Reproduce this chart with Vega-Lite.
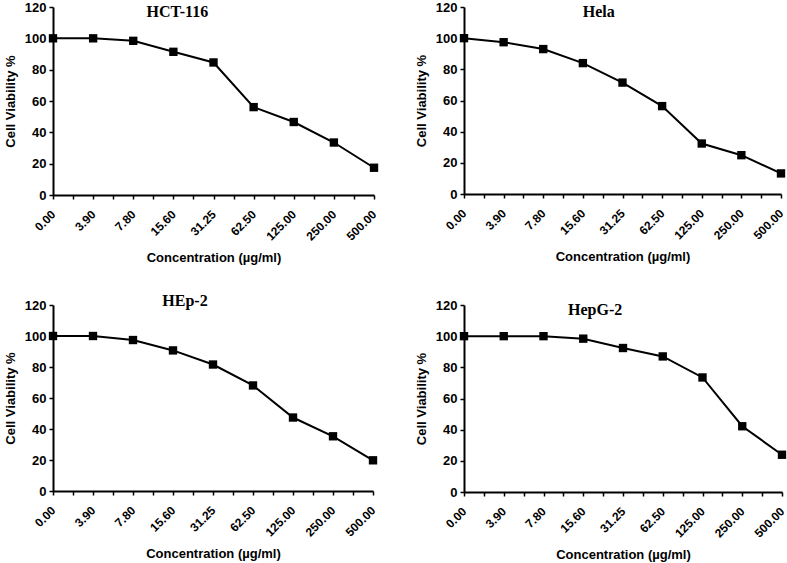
{
  "$schema": "https://vega.github.io/schema/vega-lite/v6.json",
  "background": "white",
  "padding": {"left": 4, "top": 1, "right": 0, "bottom": 0},
  "bounds": "flush",
  "columns": 2,
  "spacing": {"column": 90, "row": 110},
  "datasets": {
    "viability": [
      {"cell": "HCT-116", "idx": 0, "conc": "0.00", "viability": 100},
      {"cell": "HCT-116", "idx": 1, "conc": "3.90", "viability": 100},
      {"cell": "HCT-116", "idx": 2, "conc": "7.80", "viability": 98.4},
      {"cell": "HCT-116", "idx": 3, "conc": "15.60", "viability": 91.4},
      {"cell": "HCT-116", "idx": 4, "conc": "31.25", "viability": 84.6},
      {"cell": "HCT-116", "idx": 5, "conc": "62.50", "viability": 56.1},
      {"cell": "HCT-116", "idx": 6, "conc": "125.00", "viability": 46.6},
      {"cell": "HCT-116", "idx": 7, "conc": "250.00", "viability": 33.5},
      {"cell": "HCT-116", "idx": 8, "conc": "500.00", "viability": 17.4},
      {"cell": "Hela", "idx": 0, "conc": "0.00", "viability": 100},
      {"cell": "Hela", "idx": 1, "conc": "3.90", "viability": 97.4},
      {"cell": "Hela", "idx": 2, "conc": "7.80", "viability": 93},
      {"cell": "Hela", "idx": 3, "conc": "15.60", "viability": 84},
      {"cell": "Hela", "idx": 4, "conc": "31.25", "viability": 71.5},
      {"cell": "Hela", "idx": 5, "conc": "62.50", "viability": 56.4},
      {"cell": "Hela", "idx": 6, "conc": "125.00", "viability": 32.4},
      {"cell": "Hela", "idx": 7, "conc": "250.00", "viability": 24.9},
      {"cell": "Hela", "idx": 8, "conc": "500.00", "viability": 13.2},
      {"cell": "HEp-2", "idx": 0, "conc": "0.00", "viability": 100},
      {"cell": "HEp-2", "idx": 1, "conc": "3.90", "viability": 100},
      {"cell": "HEp-2", "idx": 2, "conc": "7.80", "viability": 97.4},
      {"cell": "HEp-2", "idx": 3, "conc": "15.60", "viability": 90.7},
      {"cell": "HEp-2", "idx": 4, "conc": "31.25", "viability": 81.6},
      {"cell": "HEp-2", "idx": 5, "conc": "62.50", "viability": 68.1},
      {"cell": "HEp-2", "idx": 6, "conc": "125.00", "viability": 47.4},
      {"cell": "HEp-2", "idx": 7, "conc": "250.00", "viability": 35.3},
      {"cell": "HEp-2", "idx": 8, "conc": "500.00", "viability": 19.8},
      {"cell": "HepG-2", "idx": 0, "conc": "0.00", "viability": 100},
      {"cell": "HepG-2", "idx": 1, "conc": "3.90", "viability": 100},
      {"cell": "HepG-2", "idx": 2, "conc": "7.80", "viability": 100},
      {"cell": "HepG-2", "idx": 3, "conc": "15.60", "viability": 98.4},
      {"cell": "HepG-2", "idx": 4, "conc": "31.25", "viability": 92.4},
      {"cell": "HepG-2", "idx": 5, "conc": "62.50", "viability": 87},
      {"cell": "HepG-2", "idx": 6, "conc": "125.00", "viability": 73.5},
      {"cell": "HepG-2", "idx": 7, "conc": "250.00", "viability": 42.2},
      {"cell": "HepG-2", "idx": 8, "conc": "500.00", "viability": 23.9}
    ]
  },
  "config": {
    "view": {"stroke": null},
    "axis": {
      "grid": false,
      "domainColor": "black",
      "domainWidth": 2,
      "tickColor": "black",
      "tickWidth": 1.5,
      "tickSize": 4,
      "labelPadding": 3,
      "labelFont": "Liberation Sans",
      "labelFontWeight": "bold",
      "labelFontSize": 13,
      "labelColor": "black",
      "titleFont": "Liberation Sans",
      "titleFontWeight": "bold",
      "titleFontSize": 13,
      "titleColor": "black",
      "labelOverlap": false,
      "labelFlush": false
    },
    "axisX": {"labelFontSize": 12, "labelAngle": -45, "labelAlign": "right", "labelBaseline": "middle", "labelPadding": 13, "titlePadding": 9}
  },
  "concat": [
    {
      "width": 321, "height": 188,
      "data": {"name": "viability"},
      "transform": [{"filter": "datum.cell === 'HCT-116'"}],
      "encoding": {
        "x": {"field": "idx", "type": "quantitative", "scale": {"domain": [0, 8], "nice": false, "zero": false},
          "axis": {"title": "Concentration (µg/ml)", "values": [0,0.5,1,1.5,2,2.5,3,3.5,4,4.5,5,5.5,6,6.5,7,7.5,8], "labelExpr": "datum.value % 1 == 0 ? ['0.00','3.90','7.80','15.60','31.25','62.50','125.00','250.00','500.00'][datum.value] : ''"}},
        "y": {"field": "viability", "type": "quantitative", "scale": {"domain": [0, 120], "nice": false},
          "axis": {"title": "Cell Viability %", "values": [0,20,40,60,80,100,120], "titlePadding": 7}}
      },
      "layer": [
        {"mark": {"type": "line", "color": "black", "strokeWidth": 2}},
        {"mark": {"type": "square", "size": 70, "color": "black", "filled": true, "opacity": 1}},
        {"transform": [{"filter": "datum.idx == 0"}],
         "mark": {"type": "text", "font": "Liberation Serif", "fontWeight": "bold", "fontSize": 16, "color": "black"},
         "encoding": {"x": {"datum": 3.1}, "y": {"datum": 117}, "text": {"field": "cell"}}}
      ]
    },
    {
      "width": 317, "height": 187,
      "data": {"name": "viability"},
      "transform": [{"filter": "datum.cell === 'Hela'"}],
      "encoding": {
        "x": {"field": "idx", "type": "quantitative", "scale": {"domain": [0, 8], "nice": false, "zero": false},
          "axis": {"title": "Concentration (µg/ml)", "values": [0,0.5,1,1.5,2,2.5,3,3.5,4,4.5,5,5.5,6,6.5,7,7.5,8], "labelExpr": "datum.value % 1 == 0 ? ['0.00','3.90','7.80','15.60','31.25','62.50','125.00','250.00','500.00'][datum.value] : ''"}},
        "y": {"field": "viability", "type": "quantitative", "scale": {"domain": [0, 120], "nice": false},
          "axis": {"title": "Cell Viability %", "values": [0,20,40,60,80,100,120], "titlePadding": 7}}
      },
      "layer": [
        {"mark": {"type": "line", "color": "black", "strokeWidth": 2}},
        {"mark": {"type": "square", "size": 70, "color": "black", "filled": true, "opacity": 1}},
        {"transform": [{"filter": "datum.idx == 0"}],
         "mark": {"type": "text", "font": "Liberation Serif", "fontWeight": "bold", "fontSize": 16, "color": "black"},
         "encoding": {"x": {"datum": 3.4}, "y": {"datum": 116.5}, "text": {"field": "cell"}}}
      ]
    },
    {
      "width": 320, "height": 186,
      "data": {"name": "viability"},
      "transform": [{"filter": "datum.cell === 'HEp-2'"}],
      "encoding": {
        "x": {"field": "idx", "type": "quantitative", "scale": {"domain": [0, 8], "nice": false, "zero": false},
          "axis": {"title": "Concentration (µg/ml)", "values": [0,0.5,1,1.5,2,2.5,3,3.5,4,4.5,5,5.5,6,6.5,7,7.5,8], "labelExpr": "datum.value % 1 == 0 ? ['0.00','3.90','7.80','15.60','31.25','62.50','125.00','250.00','500.00'][datum.value] : ''"}},
        "y": {"field": "viability", "type": "quantitative", "scale": {"domain": [0, 120], "nice": false},
          "axis": {"title": "Cell Viability %", "values": [0,20,40,60,80,100,120], "titlePadding": 7}}
      },
      "layer": [
        {"mark": {"type": "line", "color": "black", "strokeWidth": 2}},
        {"mark": {"type": "square", "size": 70, "color": "black", "filled": true, "opacity": 1}},
        {"transform": [{"filter": "datum.idx == 0"}],
         "mark": {"type": "text", "font": "Liberation Serif", "fontWeight": "bold", "fontSize": 16, "color": "black"},
         "encoding": {"x": {"datum": 3.3}, "y": {"datum": 122.5}, "text": {"field": "cell"}}}
      ]
    },
    {
      "width": 318, "height": 187,
      "data": {"name": "viability"},
      "transform": [{"filter": "datum.cell === 'HepG-2'"}],
      "encoding": {
        "x": {"field": "idx", "type": "quantitative", "scale": {"domain": [0, 8], "nice": false, "zero": false},
          "axis": {"title": "Concentration (µg/ml)", "values": [0,0.5,1,1.5,2,2.5,3,3.5,4,4.5,5,5.5,6,6.5,7,7.5,8], "labelExpr": "datum.value % 1 == 0 ? ['0.00','3.90','7.80','15.60','31.25','62.50','125.00','250.00','500.00'][datum.value] : ''"}},
        "y": {"field": "viability", "type": "quantitative", "scale": {"domain": [0, 120], "nice": false},
          "axis": {"title": "Cell Viability %", "values": [0,20,40,60,80,100,120], "titlePadding": 7}}
      },
      "layer": [
        {"mark": {"type": "line", "color": "black", "strokeWidth": 2}},
        {"mark": {"type": "square", "size": 70, "color": "black", "filled": true, "opacity": 1}},
        {"transform": [{"filter": "datum.idx == 0"}],
         "mark": {"type": "text", "font": "Liberation Serif", "fontWeight": "bold", "fontSize": 16, "color": "black"},
         "encoding": {"x": {"datum": 3.3}, "y": {"datum": 117}, "text": {"field": "cell"}}}
      ]
    }
  ]
}
